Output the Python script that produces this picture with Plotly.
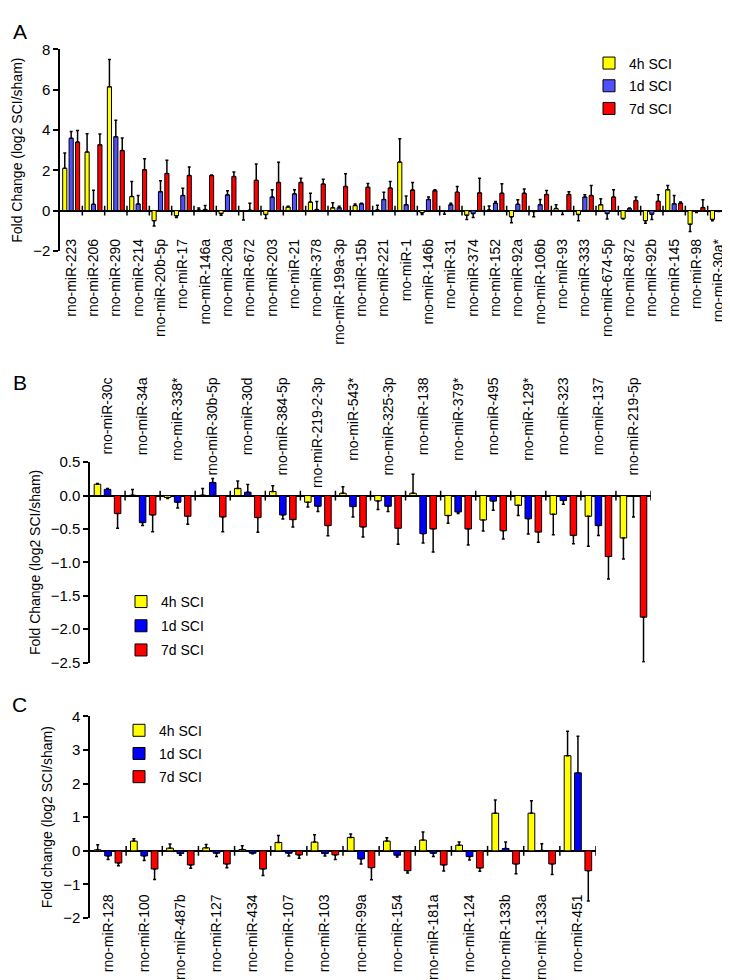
import plotly.graph_objects as go

# ---------------- Panel A data ----------------
a_labels = ["rno-miR-223", "rno-miR-206", "rno-miR-290", "rno-miR-214", "rno-miR-20b-5p",
            "rno-miR-17", "rno-miR-146a", "rno-miR-20a", "rno-miR-672", "rno-miR-203",
            "rno-miR-21", "rno-miR-378", "rno-miR-199a-3p", "rno-miR-15b", "rno-miR-221",
            "rno-miR-1", "rno-miR-146b", "rno-miR-31", "rno-miR-374", "rno-miR-152",
            "rno-miR-92a", "rno-miR-106b", "rno-miR-93", "rno-miR-333", "rno-miR-674-5p",
            "rno-miR-872", "rno-miR-92b", "rno-miR-145", "rno-miR-98", "rno-miR-30a*"]
a_4h = [2.1, 2.91, 6.15, 0.7, -0.5, -0.26, 0.03, -0.15, -0.02, -0.2,
        0.18, 0.42, 0.14, 0.25, 0.03, 2.41, -0.11, -0.02, -0.23, 0.03,
        -0.31, -0.05, 0.1, -0.2, 0.29, -0.39, -0.5, 1.04, -0.68, -0.44]
a_4h_err = [0.76, 0.9, 1.35, 0.75, 0.26, 0.08, 0.1, 0.08, 0.45, 0.19,
            0.04, 0.44, 0.25, 0.08, 0.23, 1.15, 0.09, 0.16, 0.21, 0.2,
            0.29, 0.25, 0.19, 0.3, 0.3, 0.03, 0.13, 0.2, 0.36, 0.06]
a_1d = [3.59, 0.31, 3.67, 0.33, 0.94, 0.75, 0.05, 0.78, 0.02, 0.67,
        0.83, 0.05, 0.14, 0.34, 0.55, 0.29, 0.55, 0.29, -0.15, 0.37,
        0.31, 0.29, -0.03, 0.67, -0.15, 0.1, -0.18, 0.34, -0.05, -0.03]
a_1d_err = [0.33, 0.7, 0.82, 0.42, 0.54, 0.36, 0.2, 0.21, 0.35, 0.37,
            0.21, 0.4, 0.07, 0.03, 0.36, 0.43, 0.12, 0.08, 0.19, 0.08,
            0.23, 0.26, 0.17, 0.11, 0.27, 0.03, 0.26, 0.41, 0.05, 0.02]
a_7d = [3.4, 3.27, 2.98, 2.03, 1.84, 1.74, 1.74, 1.69, 1.5, 1.4,
        1.4, 1.32, 1.2, 1.16, 1.12, 1.02, 0.99, 0.91, 0.88, 0.86,
        0.86, 0.8, 0.8, 0.75, 0.67, 0.5, 0.46, 0.37, 0.15, 0.02]
a_7d_err = [0.57, 0.53, 0.62, 0.54, 0.66, 0.42, 0.03, 0.23, 0.81, 1.0,
            0.21, 0.24, 0.63, 0.19, 0.33, 0.38, 0.05, 0.29, 0.73, 0.47,
            0.21, 0.2, 0.14, 0.49, 0.37, 0.17, 0.32, 0.05, 0.39, 0.19]

# ---------------- Panel B data ----------------
b_labels = ["rno-miR-30c", "rno-miR-34a", "rno-miR-338*", "rno-miR-30b-5p", "rno-miR-30d",
            "rno-miR-384-5p", "rno-miR-219-2-3p", "rno-miR-543*", "rno-miR-325-3p", "rno-miR-138",
            "rno-miR-379*", "rno-miR-495", "rno-miR-129*", "rno-miR-323", "rno-miR-137",
            "rno-miR-219-5p"]
b_4h = [0.17, 0.005, -0.03, 0.005, 0.107, 0.06, -0.1, 0.035, -0.08, 0.035,
        -0.3, -0.366, -0.146, -0.28, -0.31, -0.635]
b_4h_err = [0.01, 0.085, 0.015, 0.1, 0.11, 0.086, 0.07, 0.095, 0.13, 0.285,
            0.115, 0.164, 0.154, 0.306, 0.45, 0.315]
b_1d = [0.093, -0.405, -0.1, 0.195, 0.05, -0.29, -0.16, -0.165, -0.16, -0.57,
        -0.245, -0.083, -0.347, -0.073, -0.45, -0.01]
b_1d_err = [0.014, 0.045, 0.085, 0.06, 0.116, 0.06, 0.08, 0.155, 0.08, 0.14,
            0.025, 0.137, 0.229, 0.057, 0.146, 0.31]
b_7d = [-0.27, -0.29, -0.31, -0.32, -0.33, -0.36, -0.45, -0.47, -0.49, -0.5,
        -0.5, -0.527, -0.547, -0.596, -0.913, -1.82]
b_7d_err = [0.22, 0.25, 0.12, 0.22, 0.22, 0.11, 0.15, 0.15, 0.24, 0.345,
            0.24, 0.123, 0.153, 0.124, 0.337, 0.67]

# ---------------- Panel C data ----------------
c_labels = ["rno-miR-128", "rno-miR-100", "rno-miR-487b", "rno-miR-127", "rno-miR-434",
            "rno-miR-107", "rno-miR-103", "rno-miR-99a", "rno-miR-154", "rno-miR-181a",
            "rno-miR-124", "rno-miR-133b", "rno-miR-133a", "rno-miR-451"]
c_4h = [0.03, 0.29, 0.08, 0.09, 0.04, 0.25, 0.26, 0.4, 0.29, 0.32, 0.17, 1.12, 1.12, 2.83]
c_4h_err = [0.15, 0.07, 0.12, 0.1, 0.11, 0.21, 0.22, 0.1, 0.1, 0.24, 0.09, 0.39, 0.37, 0.73]
c_1d = [-0.15, -0.15, -0.08, -0.07, -0.07, -0.07, -0.08, -0.24, -0.13, -0.07, -0.17, 0.07, 0.01, 2.32]
c_1d_err = [0.11, 0.14, 0.05, 0.1, 0.02, 0.08, 0.07, 0.15, 0.05, 0.1, 0.1, 0.19, 0.2, 1.09]
c_7d = [-0.36, -0.54, -0.42, -0.39, -0.54, -0.12, -0.12, -0.5, -0.59, -0.42, -0.51, -0.39, -0.39, -0.59]
c_7d_err = [0.08, 0.31, 0.1, 0.11, 0.19, 0.1, 0.14, 0.36, 0.07, 0.18, 0.1, 0.29, 0.31, 0.9]

series_names = ["4h SCI", "1d SCI", "7d SCI"]
YELLOW, RED = "#FFFF00", "#FF0000"
BLUE_A, BLUE = "#5050FF", "#0000FF"
FONT = "Liberation Sans, Arial, sans-serif"
W, H = 730, 980


def px(x):
    return x / W


def py(y):
    return 1 - y / H


fig = go.Figure()


def add_panel(cats, vals_list, errs_list, colors, xa, ya, legend):
    for name, vals, errs, col in zip(series_names, vals_list, errs_list, colors):
        plus = [e if v >= 0 else 0 for v, e in zip(vals, errs)]
        minus = [0 if v >= 0 else e for v, e in zip(vals, errs)]
        fig.add_trace(go.Bar(
            x=cats, y=vals, name=name,
            marker=dict(color=col, line=dict(color="black", width=1)),
            error_y=dict(type="data", symmetric=False, array=plus, arrayminus=minus,
                         color="black", thickness=1.5, width=1.5),
            xaxis=xa, yaxis=ya, legend=legend, legendgroup=legend + name,
        ))


add_panel(a_labels, [a_4h, a_1d, a_7d], [a_4h_err, a_1d_err, a_7d_err],
          [YELLOW, BLUE_A, RED], "x", "y", "legend")
add_panel(b_labels, [b_4h, b_1d, b_7d], [b_4h_err, b_1d_err, b_7d_err],
          [YELLOW, BLUE, RED], "x2", "y2", "legend2")
add_panel(c_labels, [c_4h, c_1d, c_7d], [c_4h_err, c_1d_err, c_7d_err],
          [YELLOW, BLUE, RED], "x3", "y3", "legend3")

# panel geometry (reference pixels)
panels = [
    dict(x0=52, x1=722, ytop=33, ybot=238, yr=[-2, 8], dt=2, lab=222, n=len(a_labels),
         fmt="", ttl="Fold Change (log2 SCI/sham)"),
    dict(x0=82, x1=643, ytop=453, ybot=657, yr=[-2.5, 0.5], dt=0.5, lab=363, n=len(b_labels),
         fmt=".1f", ttl="Fold Change (log2 SCI/sham)"),
    dict(x0=82, x1=588, ytop=711.7, ybot=917, yr=[-2, 4], dt=1, lab=889, n=len(c_labels),
         fmt="", ttl="Fold change (log2 SCI/sham)"),
]

layout_axes = {}
shapes = []
for k, p in enumerate(panels):
    sfx = "" if k == 0 else str(k + 1)
    layout_axes["xaxis" + sfx] = dict(
        domain=[px(p["x0"]), px(p["x1"])], anchor="free", position=py(p["lab"]),
        side="bottom", type="category", range=[-0.5, p["n"] - 0.5],
        tickangle=-90, ticks="", showline=False, showgrid=False, zeroline=False,
        tickfont=dict(family=FONT, size=14, color="black"),
    )
    layout_axes["yaxis" + sfx] = dict(
        domain=[py(p["ybot"]), py(p["ytop"])], anchor="x" + sfx,
        range=p["yr"], dtick=p["dt"], tick0=0, tickformat=p["fmt"],
        showline=True, linecolor="black", linewidth=1.5, ticks="outside",
        ticklen=5, tickwidth=1.5, tickcolor="black", showgrid=False,
        zeroline=True, zerolinecolor="black", zerolinewidth=1.5,
        tickfont=dict(family=FONT, size=15, color="black"),
        title=dict(text=p["ttl"], standoff=7, font=dict(family=FONT, size=14, color="black")),
    )
    half = 5 * (p["yr"][1] - p["yr"][0]) / (p["ybot"] - p["ytop"])
    for i in range(p["n"]):
        shapes.append(dict(type="line", xref="x" + sfx, yref="y" + sfx,
                           x0=i + 0.5, x1=i + 0.5, y0=-half, y1=half,
                           line=dict(color="black", width=1.5), layer="above"))

legend_style = dict(xanchor="left", yanchor="top", bgcolor="rgba(0,0,0,0)",
                    font=dict(family=FONT, size=14, color="black"), itemwidth=30)

fig.update_layout(
    width=W, height=H, margin=dict(l=0, r=0, t=0, b=0),
    paper_bgcolor="white", plot_bgcolor="white",
    barmode="group", bargap=0.14, bargroupgap=0.35,
    font=dict(family=FONT, color="black"),
    showlegend=True,
    legend=dict(x=px(581), y=py(31), tracegroupgap=1.5, **legend_style),
    legend2=dict(x=px(113), y=py(579), tracegroupgap=3, **legend_style),
    legend3=dict(x=px(111), y=py(710), tracegroupgap=2, **legend_style),
    shapes=shapes,
    annotations=[
        dict(text=t, x=px(xx), y=py(yy), xref="paper", yref="paper",
             xanchor="center", yanchor="middle",
             showarrow=False, font=dict(family=FONT, size=21, color="black"))
        for t, xx, yy in [("A", 12, 15), ("B", 12, 372), ("C", 12, 700)]
    ],
    **layout_axes,
)

fig.write_html("out.html")
